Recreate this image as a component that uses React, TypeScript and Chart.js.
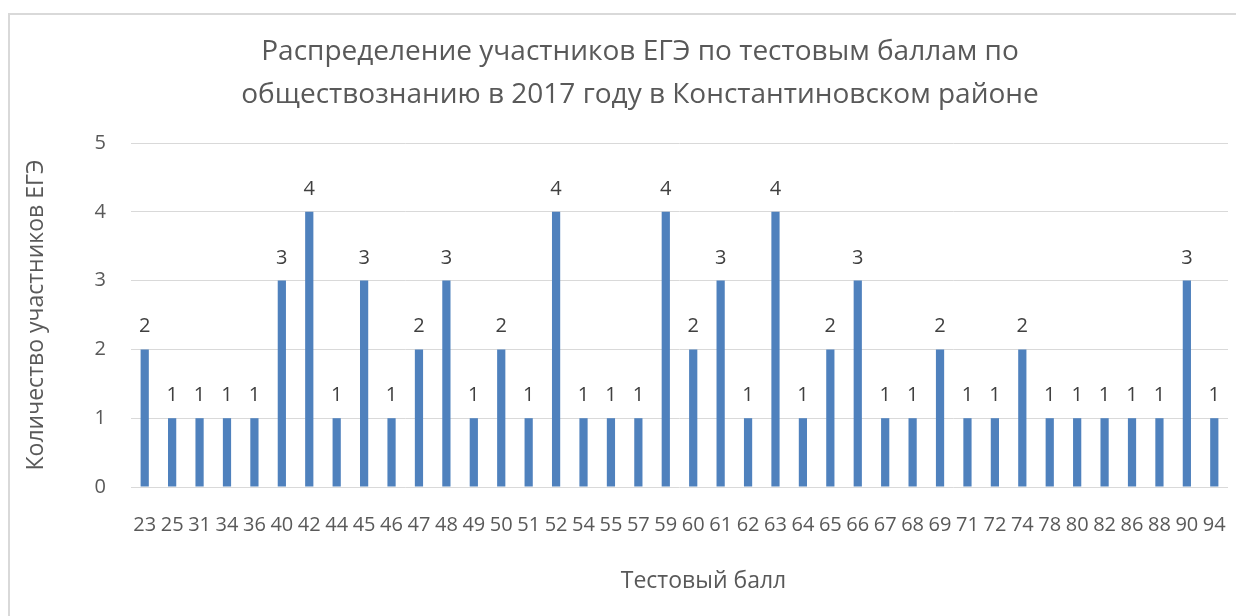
import React, { useEffect, useRef } from "react";
import { Chart, registerables } from "chart.js";

Chart.register(...registerables);

const categories = ["23","25","31","34","36","40","42","44","45","46","47","48","49","50","51","52","54","55","57","59","60","61","62","63","64","65","66","67","68","69","71","72","74","78","80","82","86","88","90","94"];
const counts = [2,1,1,1,1,3,4,1,3,1,2,3,1,2,1,4,1,1,1,4,2,3,1,4,1,2,3,1,1,2,1,1,2,1,1,1,1,1,3,1];
const yMin = 0;
const yMax = 5;
const yStep = 1;
const titleLines = ["Распределение участников ЕГЭ по тестовым баллам по", "обществознанию в 2017 году в Константиновском районе"];
const yTitle = "Количество участников ЕГЭ";
const xTitle = "Тестовый балл";

const FONT = "'Open Sans', 'DejaVu Sans', sans-serif";
const TEXT = "#595959";
const BAR = "#4f81bd";
const GRID = "#d9d9d9";

const valueLabels = {
  id: "valueLabels",
  afterDatasetsDraw(chart: any) {
    const ctx = chart.ctx;
    const meta = chart.getDatasetMeta(0);
    const data = chart.data.datasets[0].data;
    ctx.save();
    ctx.font = `20px ${FONT}`;
    ctx.fillStyle = "#404040";
    ctx.textAlign = "center";
    ctx.textBaseline = "alphabetic";
    meta.data.forEach((el: any, i: number) => {
      ctx.fillText(String(data[i]), el.x, el.y - 17);
    });
    ctx.restore();
  },
};

const xTitlePlugin = {
  id: "xTitlePlugin",
  afterDraw(chart: any) {
    const ctx = chart.ctx;
    const a = chart.chartArea;
    ctx.save();
    ctx.font = `23px ${FONT}`;
    ctx.fillStyle = TEXT;
    ctx.textAlign = "center";
    ctx.textBaseline = "middle";
    ctx.fillText(xTitle, (a.left + a.right) / 2 + 24, a.bottom + 94);
    ctx.restore();
  },
};

export default function App() {
  const ref = useRef<HTMLCanvasElement>(null);
  useEffect(() => {
    if (!ref.current) return;
    const chart = new Chart(ref.current, {
      type: "bar",
      data: {
        labels: categories,
        datasets: [
          {
            data: counts,
            backgroundColor: BAR,
            borderWidth: 0,
            categoryPercentage: 1,
            barPercentage: 0.3,
          },
        ],
      },
      options: {
        animation: false,
        responsive: true,
        maintainAspectRatio: false,
        layout: { padding: 0 },
        plugins: {
          legend: { display: false },
          tooltip: { enabled: false },
          title: {
            display: true,
            text: titleLines,
            color: TEXT,
            font: { family: FONT, size: 28, weight: "normal", lineHeight: 1.536 },
            padding: { top: 16, bottom: 26 },
          },
        },
        scales: {
          x: {
            grid: { display: false, drawTicks: false },
            border: { display: false },
            ticks: {
              color: TEXT,
              font: { family: FONT, size: 20 },
              autoSkip: false,
              maxRotation: 0,
              minRotation: 0,
              padding: 26,
            },
            afterFit(scale: any) {
              scale.height = 166;
            },
          },
          y: {
            min: yMin,
            max: yMax,
            grid: { color: GRID, lineWidth: 1, drawTicks: false },
            border: { display: false },
            ticks: {
              stepSize: yStep,
              color: TEXT,
              font: { family: FONT, size: 20 },
              padding: 25,
            },
            title: {
              display: true,
              text: yTitle,
              color: TEXT,
              font: { family: FONT, size: 23 },
              padding: { top: 13, bottom: 0 },
            },
            afterFit(scale: any) {
              scale.width = 121;
            },
          },
          yRightSpace: {
            type: "linear",
            position: "right",
            display: true,
            grid: { display: false, drawTicks: false },
            border: { display: false },
            ticks: { display: false },
            afterFit(scale: any) {
              scale.width = 42;
            },
          },
        },
      },
      plugins: [valueLabels, xTitlePlugin],
    });
    return () => chart.destroy();
  }, []);

  return (
    <div style={{ width: 1236, height: 603, paddingTop: 5, overflow: "hidden" }}>
      <div
        style={{
          position: "relative",
          width: 1262,
          height: 640,
          boxSizing: "border-box",
          borderTop: `2px solid ${GRID}`,
          borderLeft: `2px solid ${GRID}`,
          background: "#fff",
        }}
      >
        <canvas ref={ref} />
      </div>
    </div>
  );
}
